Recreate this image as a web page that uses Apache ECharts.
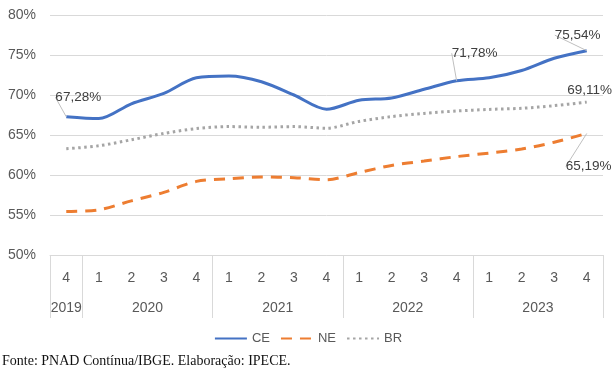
<!DOCTYPE html>
<html><head><meta charset="utf-8">
<script src="https://cdn.jsdelivr.net/npm/echarts@6/dist/echarts.min.js"></script>
<style>html,body{margin:0;padding:0;background:#fff}#c{width:616px;height:371px}</style>
</head><body><div id="c"></div>
<script>
const quarters = ['4','1','2','3','4','1','2','3','4','1','2','3','4','1','2','3','4'];
const years = ['2019','2020','2021','2022','2023'];
const yearCounts = [1,4,4,4,4];
const ce = [67.28,67.05,68.9,70.2,72.15,72.37,71.66,70.0,68.22,69.34,69.63,70.71,71.78,72.15,73.07,74.6,75.54];
const ne = [55.43,55.64,56.76,57.83,59.2,59.53,59.75,59.67,59.4,60.3,61.2,61.74,62.3,62.74,63.24,64.1,65.19];
const br = [63.28,63.65,64.4,65.2,65.8,66.05,65.97,66.05,65.85,66.7,67.3,67.7,68.0,68.2,68.34,68.67,69.11];
const yTicks = [50,55,60,65,70,75,80];
const ceLabelIdx = [0,12,16];
const neLabelIdx = [16];
const brLabelIdx = [16];

// half-quarter axis for year labels and dividers
const halfCats = [];
for (let i = 0; i <= quarters.length*2; i++) halfCats.push('');
const boundaries = [0];
const yearPos = {};
let acc = 0;
years.forEach((y,i)=>{ yearPos[acc*2 + yearCounts[i]] = y; acc += yearCounts[i]; boundaries.push(acc*2); });
Object.keys(yearPos).forEach(k=>{ halfCats[+k] = yearPos[k]; });

const fmt = v => v.toFixed(2).replace('.', ',') + '%';
function mk(vals, idxs, line){
  return vals.map((v,i)=> idxs.includes(i) ? {value:v, label:{show:true}, labelLine:{show:line}} : v);
}
const offsets = {
  '0_0':[12,-7.5], '0_12':[18,-15.5], '0_16':[-9,-3.5],
  '1_16':[2,21], '2_16':[3,0]
};
const chart = echarts.init(document.getElementById('c'));
const lblStyle = {show:false, formatter:p=>fmt(p.value), color:'#404040', fontSize:13.5, fontFamily:'Liberation Sans'};
const axFont = {color:'#595959', fontSize:14, fontFamily:'Liberation Sans'};
chart.setOption({
  animation:false,
  grid:{left:50,right:13,top:15,bottom:116},
  legend:{
    data:['CE','NE','BR'], top:327, left:'center', itemWidth:32, itemHeight:10, itemGap:10,
    itemStyle:{opacity:0},
    textStyle:{color:'#595959', fontSize:13, fontFamily:'Liberation Sans'}
  },
  title:{text:'Fonte: PNAD Contínua/IBGE. Elaboração: IPECE.', left:2, top:354, padding:0,
    textStyle:{fontFamily:'Liberation Serif', fontSize:14, fontWeight:'normal', color:'#111'}},
  xAxis:[
    {type:'category', data:quarters, boundaryGap:true,
      axisLine:{show:true, lineStyle:{color:'#d9d9d9'}}, axisTick:{show:false},
      axisLabel:Object.assign({margin:16, interval:0}, axFont)},
    {type:'category', data:halfCats, boundaryGap:false, position:'bottom',
      axisLine:{show:false},
      axisTick:{show:true, length:63, interval:(i)=>boundaries.includes(i), lineStyle:{color:'#d9d9d9'}},
      axisLabel:Object.assign({margin:46, interval:(i)=>halfCats[i]!==''}, axFont)}
  ],
  yAxis:{type:'value', min:yTicks[0], max:yTicks[yTicks.length-1], interval:5,
    axisLine:{show:false}, axisTick:{show:false},
    splitLine:{lineStyle:{color:'#d9d9d9'}},
    axisLabel:Object.assign({formatter:'{value}%', margin:14}, axFont)},
  series:[
    {name:'CE', type:'line', data:mk(ce, ceLabelIdx, true), smooth:0.3, symbol:'circle', symbolSize:0, showSymbol:true,
      lineStyle:{color:'#4472C4', width:3}, itemStyle:{color:'#4472C4'}, label:lblStyle,
      labelLine:{lineStyle:{color:'#bfbfbf', width:1}}, z:3},
    {name:'NE', type:'line', data:mk(ne, neLabelIdx, true), smooth:0.3, symbol:'circle', symbolSize:0, showSymbol:true,
      lineStyle:{color:'#ED7D31', width:3, type:[11,8]}, itemStyle:{color:'#ED7D31'},
      label:Object.assign({}, lblStyle, {position:'bottom'}),
      labelLine:{lineStyle:{color:'#bfbfbf', width:1}}, z:2},
    {name:'BR', type:'line', data:mk(br, brLabelIdx, false), smooth:0.3, symbol:'circle', symbolSize:0, showSymbol:true,
      lineStyle:{color:'#A5A5A5', width:3, type:[2.5,3.5]}, itemStyle:{color:'#A5A5A5'}, label:lblStyle, z:1}
  ],
  labelLayout: function(p){
    const o = offsets[p.seriesIndex + '_' + p.dataIndex];
    return o ? {dx:o[0], dy:o[1]} : {};
  }
});
</script></body></html>
